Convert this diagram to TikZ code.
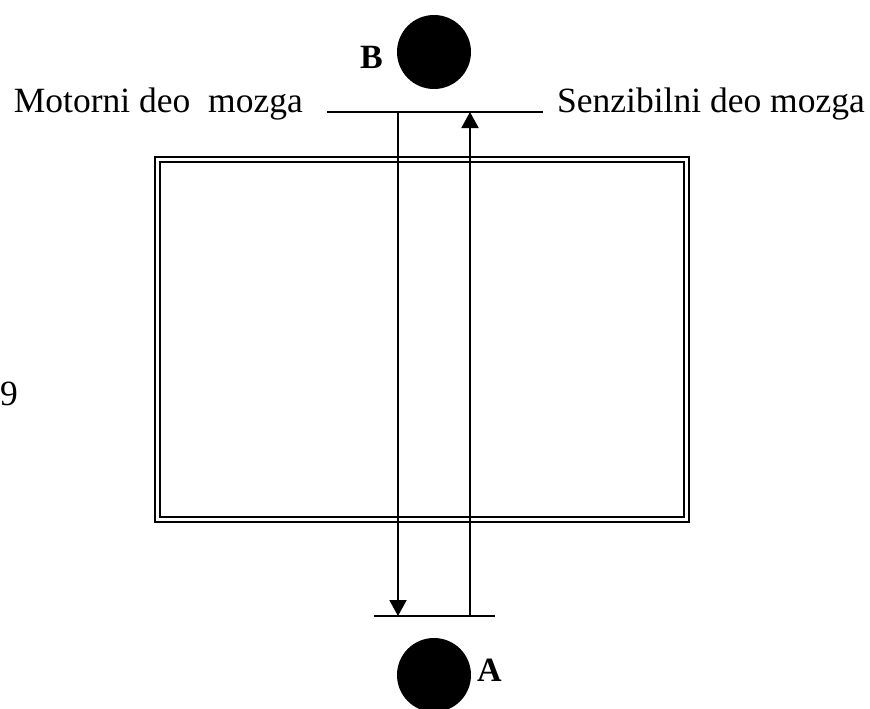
\documentclass[tikz,border=0pt]{standalone}
\usepackage{fontspec}
\setmainfont{Liberation Serif}
\usetikzlibrary{arrows.meta}
\begin{document}
\begin{tikzpicture}[x=1pt,y=-1pt]
\useasboundingbox (0,0) rectangle (870,709);
\tikzstyle{ball}=[circle,fill=black,minimum size=74pt,inner sep=0pt];
\tikzstyle{txt}=[inner sep=0pt,font=\fontsize{35.5}{40}\selectfont];
\tikzstyle{letter}=[inner sep=0pt,font=\fontsize{34}{38}\selectfont\bfseries];
\tikzstyle{nerve}=[line width=2pt,-{Triangle[length=16pt,width=17pt]}];
\node[ball] (B)at(434,52) {};
\node[ball] (A)at(434,675) {};
\node[letter,anchor=base east] (lB)at(383,69) {B};
\node[letter,anchor=base west] (lA)at(477,681) {A};
\node[txt,anchor=base east] (motor)at(303,112) {Motorni deo~ mozga};
\node[txt,anchor=base west] (senz)at(557,112) {Senzibilni deo mozga};
\node[txt,anchor=west] (nine)at(0,394) {9};
\draw[line width=2pt,double,double distance=3pt] (157.5,159.5) rectangle (686.5,519.5);
\coordinate (tl)at(327,112);
\coordinate (tr)at(543,112);
\coordinate (bl)at(374,616);
\coordinate (br)at(495,616);
\coordinate (d1)at(398,112);
\coordinate (d2)at(398,616);
\coordinate (u1)at(470,616);
\coordinate (u2)at(470,112);
\draw[line width=2.5pt](tl)--(tr);
\draw[line width=2.5pt](bl)--(br);
\draw[nerve](d1)--(d2);
\draw[nerve](u1)--(u2);
\end{tikzpicture}
\end{document}
